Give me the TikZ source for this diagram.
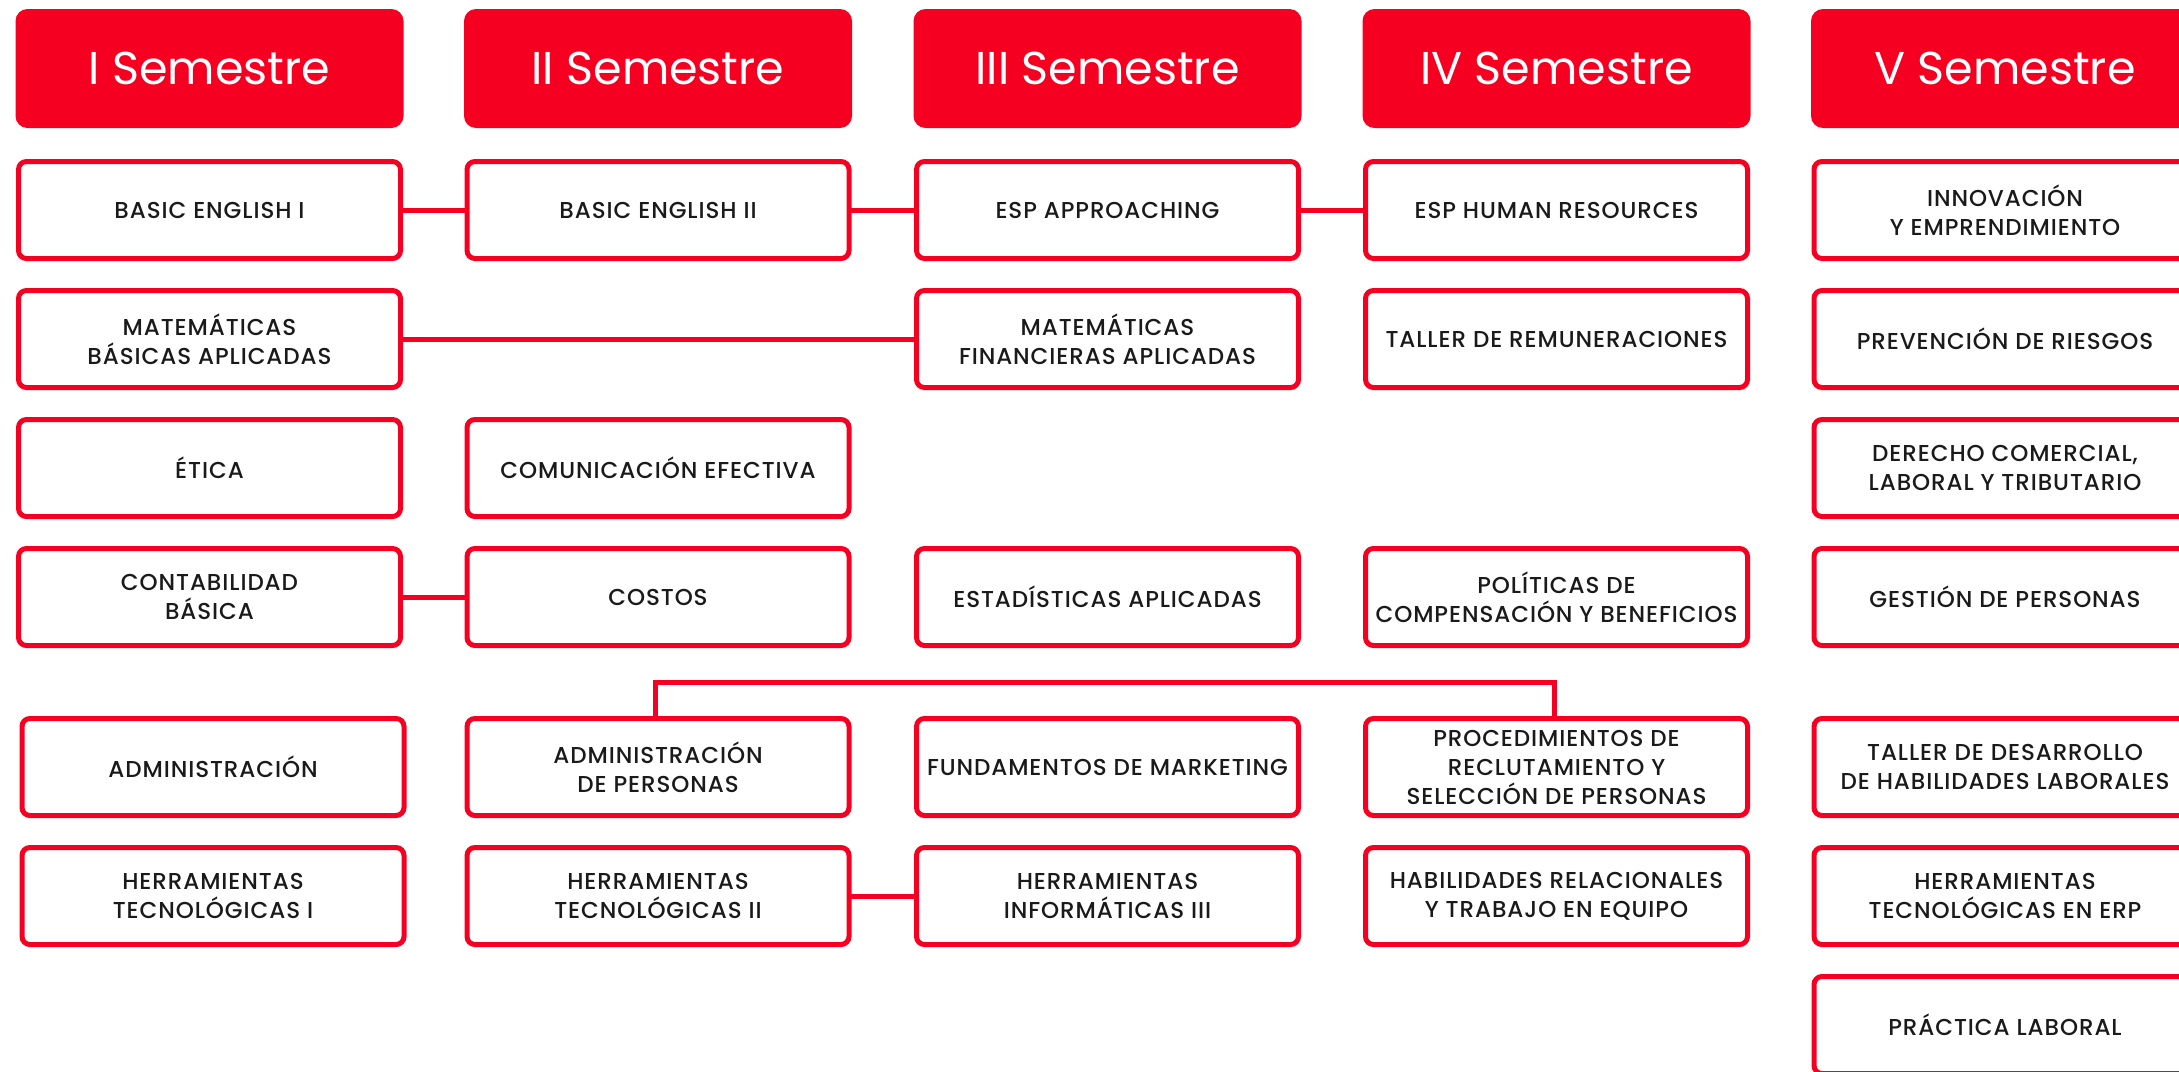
\documentclass[tikz,border=0pt]{standalone}
\usepackage{fontspec}
\setmainfont{Poppins}
\newfontfamily\pmed{Poppins Medium}[LetterSpace=4]
\definecolor{ured}{RGB}{245,0,32}
\definecolor{utext}{RGB}{26,26,26}
\begin{document}
\begin{tikzpicture}[x=1pt,y=-1pt,
  hdr/.style={fill=ured,rounded corners=12pt,minimum width=388pt,minimum height=119pt,inner sep=0pt,outer sep=0pt,text=white,font=\fontsize{46}{50}\selectfont},
  subj/.style={draw=ured,line width=5pt,rounded corners=8pt,fill=white,minimum width=382pt,minimum height=97pt,inner sep=0pt,outer sep=0pt,align=center,text=utext,font=\pmed\fontsize{23}{29}\selectfont},
  link/.style={draw=ured,line width=5pt}]
\useasboundingbox (0,0) rectangle (2179,1071);
% headers
\node[hdr] (h1) at (209.5,68.5) {I Semestre};
\node[hdr] (h2) at (658,68.5) {II Semestre};
\node[hdr] (h3) at (1107.5,68.5) {III Semestre};
\node[hdr] (h4) at (1556.5,68.5) {IV Semestre};
\node[hdr] (h5) at (2005,68.5) {V Semestre};
% column I
\node[subj] (a1) at (209.5,210) {BASIC ENGLISH I};
\node[subj] (a2) at (209.5,339) {MATEMÁTICAS\\BÁSICAS APLICADAS};
\node[subj] (a3) at (209.5,468) {ÉTICA};
\node[subj] (a4) at (209.5,597) {CONTABILIDAD\\BÁSICA};
\node[subj] (a5) at (213,767) {ADMINISTRACIÓN};
\node[subj] (a6) at (213,896) {HERRAMIENTAS\\TECNOLÓGICAS I};
% column II
\node[subj] (b1) at (658,210) {BASIC ENGLISH II};
\node[subj] (b3) at (658,468) {COMUNICACIÓN EFECTIVA};
\node[subj] (b4) at (658,597) {COSTOS};
\node[subj] (b5) at (658,767) {ADMINISTRACIÓN\\DE PERSONAS};
\node[subj] (b6) at (658,896) {HERRAMIENTAS\\TECNOLÓGICAS II};
% column III
\node[subj] (c1) at (1107.5,210) {ESP APPROACHING};
\node[subj] (c2) at (1107.5,339) {MATEMÁTICAS\\FINANCIERAS APLICADAS};
\node[subj] (c4) at (1107.5,597) {ESTADÍSTICAS APLICADAS};
\node[subj] (c5) at (1107.5,767) {FUNDAMENTOS DE MARKETING};
\node[subj] (c6) at (1107.5,896) {HERRAMIENTAS\\INFORMÁTICAS III};
% column IV
\node[subj] (d1) at (1556.5,210) {ESP HUMAN RESOURCES};
\node[subj] (d2) at (1556.5,339) {TALLER DE REMUNERACIONES};
\node[subj] (d4) at (1556.5,597) {POLÍTICAS DE\\COMPENSACIÓN Y BENEFICIOS};
\node[subj] (d5) at (1556.5,767) {PROCEDIMIENTOS DE\\RECLUTAMIENTO Y\\SELECCIÓN DE PERSONAS};
\node[subj] (d6) at (1556.5,896) {HABILIDADES RELACIONALES\\Y TRABAJO EN EQUIPO};
% column V
\node[subj] (e1) at (2005,210) {INNOVACIÓN\\Y EMPRENDIMIENTO};
\node[subj] (e2) at (2005,339) {PREVENCIÓN DE RIESGOS};
\node[subj] (e3) at (2005,468) {DERECHO COMERCIAL,\\LABORAL Y TRIBUTARIO};
\node[subj] (e4) at (2005,597) {GESTIÓN DE PERSONAS};
\node[subj] (e5) at (2005,767) {TALLER DE DESARROLLO\\DE HABILIDADES LABORALES};
\node[subj] (e6) at (2005,896) {HERRAMIENTAS\\TECNOLÓGICAS EN ERP};
\node[subj] (e7) at (2005,1025) {PRÁCTICA LABORAL};
% connectors
\draw[link] (a1.east) -- (b1.west);
\draw[link] (b1.east) -- (c1.west);
\draw[link] (c1.east) -- (d1.west);
\draw[link] (a2.east) -- (c2.west);
\draw[link] (a4.east) -- (b4.west);
\draw[link] (b6.east) -- (c6.west);
\coordinate (busL) at (655,682);
\coordinate (busR) at (1554,682);
\draw[link] (b5.north -| busL) -- (busL) -- (busR) -- (d5.north -| busR);
\end{tikzpicture}
\end{document}
